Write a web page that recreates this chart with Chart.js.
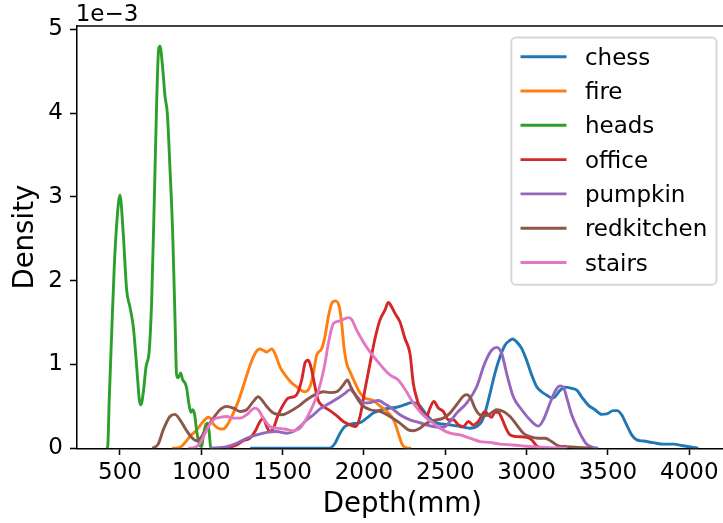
<!DOCTYPE html>
<html>
<head>
<meta charset="utf-8">
<script src="https://cdn.jsdelivr.net/npm/chart.js@4/dist/chart.umd.min.js"></script>
<style>
	html, body { margin: 0; padding: 0; background: #fff; overflow: hidden; }
	#wrap { width: 723px; height: 523px; overflow: hidden; }
</style>
</head>
<body>
<div id="wrap"><canvas id="depthChart" width="728" height="523"></canvas></div>
<script>
// depth (mm) -> density (x 1e-3), one list per scene
const chess = [[1300,0],[1790,0],[1822,0.06],[1853,0.18],[1883,0.26],[1924,0.29],[1976,0.305],[2017,0.36],[2057,0.42],[2109,0.46],[2160,0.48],[2201,0.49],[2252,0.52],[2293,0.545],[2324,0.54],[2355,0.48],[2385,0.40],[2426,0.32],[2477,0.29],[2529,0.28],[2590,0.26],[2652,0.24],[2693,0.26],[2724,0.32],[2744,0.42],[2775,0.655],[2805,0.895],[2836,1.09],[2867,1.23],[2898,1.29],[2914,1.305],[2939,1.27],[2970,1.19],[3000,1.05],[3031,0.875],[3062,0.735],[3092,0.675],[3123,0.635],[3154,0.60],[3174,0.615],[3205,0.69],[3236,0.73],[3277,0.715],[3308,0.695],[3338,0.615],[3379,0.515],[3420,0.46],[3461,0.405],[3492,0.41],[3533,0.45],[3557,0.45],[3584,0.40],[3615,0.28],[3646,0.16],[3677,0.10],[3717,0.087],[3779,0.067],[3840,0.05],[3902,0.05],[3963,0.03],[4025,0.01],[4055,0]];
const fire = [[820,0],[869,0.01],[900,0.07],[930,0.14],[972,0.22],[1012,0.32],[1043,0.37],[1060,0.35],[1074,0.29],[1104,0.24],[1135,0.23],[1166,0.30],[1197,0.42],[1227,0.56],[1258,0.74],[1289,0.93],[1320,1.09],[1344,1.17],[1361,1.185],[1380,1.17],[1402,1.15],[1433,1.185],[1453,1.13],[1484,0.97],[1525,0.85],[1556,0.78],[1586,0.735],[1637,0.675],[1668,0.735],[1689,0.895],[1709,1.11],[1740,1.19],[1760,1.33],[1781,1.57],[1802,1.73],[1826,1.76],[1848,1.69],[1863,1.49],[1877,1.21],[1894,1.01],[1914,0.915],[1945,0.78],[1976,0.66],[2006,0.60],[2057,0.57],[2098,0.505],[2140,0.44],[2170,0.38],[2191,0.30],[2211,0.18],[2232,0.06],[2252,0.01],[2290,0]];
const heads = [[418,0],[425,0.03],[434,0.58],[449,1.37],[465,2.17],[483,2.76],[500,3.02],[520,2.57],[541,1.89],[561,1.69],[582,1.45],[603,0.97],[619,0.58],[629,0.52],[643,0.66],[660,0.97],[680,1.17],[695,1.77],[711,2.96],[726,4.16],[738,4.77],[746,4.80],[762,4.55],[777,4.2],[791,4.0],[807,3.36],[824,2.57],[838,1.57],[848,0.88],[858,0.84],[873,0.90],[885,0.82],[900,0.78],[910,0.72],[920,0.58],[935,0.43],[947,0.46],[959,0.40],[972,0.20],[988,0.05],[1002,0.02],[1012,0.14],[1029,0.29],[1039,0.30],[1049,0.18],[1058,0.01],[1075,0]];
const office = [[1150,0],[1217,0.04],[1258,0.09],[1299,0.12],[1330,0.2],[1361,0.32],[1381,0.36],[1402,0.26],[1422,0.20],[1443,0.24],[1473,0.40],[1504,0.52],[1535,0.60],[1576,0.62],[1596,0.675],[1617,0.815],[1640,1.03],[1658,1.05],[1679,0.93],[1699,0.735],[1719,0.57],[1750,0.50],[1791,0.45],[1832,0.39],[1873,0.32],[1914,0.28],[1951,0.26],[1976,0.38],[2006,0.70],[2037,1.01],[2068,1.31],[2098,1.53],[2129,1.65],[2150,1.74],[2170,1.69],[2191,1.61],[2221,1.51],[2252,1.31],[2283,1.13],[2303,0.78],[2324,0.60],[2355,0.44],[2385,0.38],[2406,0.48],[2430,0.56],[2457,0.48],[2488,0.44],[2519,0.34],[2549,0.34],[2580,0.28],[2611,0.26],[2642,0.32],[2672,0.28],[2703,0.32],[2744,0.44],[2765,0.40],[2785,0.37],[2805,0.43],[2826,0.43],[2847,0.36],[2873,0.24],[2898,0.16],[2939,0.14],[3000,0.13],[3031,0.10],[3062,0.03],[3090,0]];
const pumpkin = [[1050,0],[1156,0.02],[1217,0.06],[1279,0.12],[1340,0.16],[1402,0.19],[1463,0.20],[1525,0.18],[1566,0.20],[1607,0.26],[1648,0.34],[1689,0.40],[1730,0.47],[1791,0.54],[1842,0.60],[1883,0.655],[1914,0.70],[1934,0.67],[1965,0.60],[1996,0.54],[2037,0.545],[2088,0.57],[2129,0.53],[2170,0.48],[2221,0.40],[2283,0.34],[2344,0.305],[2426,0.26],[2488,0.25],[2529,0.32],[2570,0.42],[2631,0.54],[2693,0.735],[2734,0.97],[2755,1.07],[2785,1.17],[2816,1.205],[2847,1.13],[2877,0.895],[2918,0.615],[2970,0.46],[3021,0.34],[3072,0.265],[3103,0.34],[3144,0.54],[3181,0.70],[3206,0.745],[3226,0.73],[3250,0.58],[3277,0.40],[3308,0.26],[3338,0.14],[3369,0.05],[3410,0.01],[3440,0]];
const redkitchen = [[700,0],[735,0.05],[766,0.22],[807,0.38],[838,0.405],[869,0.34],[910,0.21],[941,0.13],[972,0.09],[1002,0.14],[1033,0.24],[1074,0.36],[1115,0.46],[1156,0.50],[1197,0.48],[1238,0.44],[1279,0.46],[1320,0.56],[1350,0.615],[1371,0.58],[1402,0.50],[1443,0.42],[1494,0.40],[1545,0.44],[1596,0.50],[1648,0.58],[1709,0.65],[1750,0.675],[1791,0.665],[1832,0.675],[1873,0.755],[1898,0.815],[1919,0.735],[1945,0.64],[1986,0.52],[2037,0.46],[2098,0.44],[2160,0.38],[2221,0.30],[2273,0.22],[2303,0.21],[2344,0.24],[2385,0.30],[2426,0.33],[2488,0.36],[2529,0.42],[2570,0.52],[2607,0.615],[2631,0.64],[2656,0.60],[2682,0.48],[2713,0.40],[2754,0.39],[2795,0.44],[2816,0.46],[2857,0.44],[2898,0.38],[2939,0.28],[2980,0.18],[3021,0.14],[3072,0.12],[3113,0.12],[3154,0.08],[3195,0.03],[3246,0.02],[3320,0.01],[3400,0]];
const stairs = [[920,0],[960,0.01],[992,0.06],[1033,0.22],[1074,0.34],[1115,0.37],[1156,0.38],[1197,0.36],[1238,0.36],[1279,0.40],[1330,0.48],[1350,0.46],[1381,0.36],[1422,0.26],[1463,0.24],[1514,0.23],[1565,0.21],[1607,0.24],[1648,0.36],[1679,0.48],[1709,0.62],[1740,0.83],[1760,1.01],[1781,1.25],[1800,1.42],[1812,1.49],[1853,1.52],[1904,1.56],[1924,1.54],[1955,1.41],[1996,1.27],[2037,1.15],[2078,1.05],[2119,0.955],[2160,0.875],[2211,0.815],[2242,0.735],[2273,0.64],[2303,0.54],[2344,0.44],[2385,0.36],[2426,0.30],[2467,0.24],[2529,0.18],[2590,0.16],[2652,0.12],[2713,0.08],[2775,0.07],[2836,0.05],[2918,0.04],[3000,0.025],[3123,0.01],[3250,0]];

const sceneNames = ['chess', 'fire', 'heads', 'office', 'pumpkin', 'redkitchen', 'stairs'];
const sceneCurves = [chess, fire, heads, office, pumpkin, redkitchen, stairs];
const sceneColors = ['#1f77b4', '#ff7f0e', '#2ca02c', '#d62728', '#9467bd', '#8c564b', '#e377c2'];

const xTicks = [500, 1000, 1500, 2000, 2500, 3000, 3500, 4000];
const yTicks = [0, 1, 2, 3, 4, 5];

(() => {
	const fontFamily = '"DejaVu Sans", "Liberation Sans", sans-serif';
	const tickFont = { family: fontFamily, size: 23 };
	const labelFont = { family: fontFamily, size: 27.6 };
	const spineWidth = 1.53;

	// top spine plus the 1e-3 multiplier over the y axis
	const framePlugin = {
		id: 'frame',
		afterDraw(chart) {
			const { ctx, chartArea } = chart;
			ctx.save();
			ctx.strokeStyle = '#000';
			ctx.lineWidth = spineWidth;
			ctx.beginPath();
			ctx.moveTo(chartArea.left - spineWidth / 2, chartArea.top);
			ctx.lineTo(chartArea.right, chartArea.top);
			ctx.stroke();
			ctx.fillStyle = '#000';
			ctx.font = `23px ${fontFamily}`;
			ctx.textBaseline = 'alphabetic';
			ctx.fillText('1e\u22123', chartArea.left - 1, chartArea.top - 5);
			ctx.restore();
		}
	};

	// framed legend in the upper right corner of the plot
	const legendPlugin = {
		id: 'boxLegend',
		afterDraw(chart) {
			const { ctx, chartArea } = chart;
			const fs = 23;
			const rowH = 34.3;
			const handleLen = 2 * fs;
			const textPad = 0.8 * fs;
			const pad = 0.4 * fs;
			ctx.save();
			ctx.font = `${fs}px ${fontFamily}`;
			const textW = Math.max(...sceneNames.map(n => ctx.measureText(n).width));
			const w = pad * 2 + handleLen + textPad + textW;
			const h = 19.2 + rowH * (sceneNames.length - 1) + 22.3;
			const right = chartArea.right - 0.5 * fs;
			const left = right - w;
			const top = chartArea.top + 0.5 * fs;

			ctx.beginPath();
			ctx.roundRect(left, top, w, h, 4.6);
			ctx.fillStyle = 'rgba(255,255,255,0.8)';
			ctx.fill();
			ctx.lineWidth = 1.9;
			ctx.strokeStyle = 'rgba(204,204,204,0.8)';
			ctx.stroke();

			sceneNames.forEach((name, i) => {
				const y = top + 19.2 + i * rowH;
				ctx.beginPath();
				ctx.moveTo(left + pad, y);
				ctx.lineTo(left + pad + handleLen, y);
				ctx.strokeStyle = sceneColors[i];
				ctx.lineWidth = 2.9;
				ctx.stroke();
				ctx.fillStyle = '#000';
				ctx.textBaseline = 'alphabetic';
				ctx.fillText(name, left + pad + handleLen + textPad, y + 8);
			});
			ctx.restore();
		}
	};

	new Chart(document.getElementById('depthChart'), {
		type: 'line',
		data: {
			datasets: sceneCurves.map((curve, i) => ({
				label: sceneNames[i],
				data: curve.map(([x, y]) => ({ x, y })),
				borderColor: sceneColors[i],
				backgroundColor: sceneColors[i],
				borderWidth: 2.9,
				pointRadius: 0,
				fill: false,
				cubicInterpolationMode: 'monotone',
				borderJoinStyle: 'round',
				order: sceneCurves.length - i
			}))
		},
		options: {
			responsive: false,
			animation: false,
			events: [],
			devicePixelRatio: 1,
			layout: { padding: { top: 26, left: 0, right: 0, bottom: 0 } },
			plugins: {
				legend: { display: false },
				tooltip: { enabled: false }
			},
			scales: {
				x: {
					type: 'linear',
					min: 234,
					max: 4238,
					z: 1,
					afterBuildTicks: scale => { scale.ticks = xTicks.map(value => ({ value })); },
					afterFit: scale => { scale.height = 74.7; },
					ticks: {
						color: '#000',
						font: tickFont,
						padding: 4,
						maxRotation: 0,
						autoSkip: false,
						callback: value => String(value)
					},
					grid: {
						drawOnChartArea: false,
						drawTicks: true,
						tickLength: 6.7,
						tickWidth: spineWidth,
						tickColor: '#000'
					},
					border: { display: true, color: '#000', width: spineWidth },
					title: {
						display: true,
						text: 'Depth(mm)',
						color: '#000',
						font: labelFont,
						padding: { top: 0, bottom: 1.5 }
					}
				},
				y: {
					type: 'linear',
					min: 0,
					max: 5.04,
					z: 1,
					afterBuildTicks: scale => { scale.ticks = yTicks.map(value => ({ value })); },
					afterFit: scale => { scale.width = 76.7; },
					ticks: {
						color: '#000',
						font: tickFont,
						padding: 7,
						callback: value => String(value)
					},
					grid: {
						drawOnChartArea: false,
						drawTicks: true,
						tickLength: 6.7,
						tickWidth: spineWidth,
						tickColor: '#000'
					},
					border: { display: true, color: '#000', width: spineWidth },
					title: {
						display: true,
						text: 'Density',
						color: '#000',
						font: labelFont,
						padding: { top: 9, bottom: 0 }
					}
				}
			}
		},
		plugins: [framePlugin, legendPlugin]
	});
})();
</script>
</body>
</html>
